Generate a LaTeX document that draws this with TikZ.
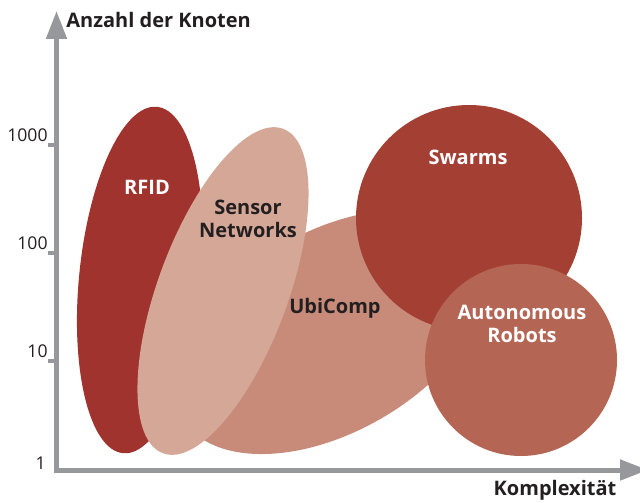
\documentclass[tikz,border=0pt]{standalone}
\usepackage{fontspec}
\setmainfont{Open Sans}
\usetikzlibrary{arrows.meta}
\definecolor{rfidred}{HTML}{A0332D}
\definecolor{sensorpink}{HTML}{D5A797}
\definecolor{ubirose}{HTML}{C88B7A}
\definecolor{swarmred}{HTML}{A34033}
\definecolor{robotrust}{HTML}{B46553}
\definecolor{axisgray}{HTML}{97989C}
\definecolor{textdark}{HTML}{231F20}

\begin{document}
\begin{tikzpicture}[x=0.5pt,y=0.5pt]
    \tikzstyle{every node}+=[inner sep=0pt]
    \tikzstyle{blobtext}=[font=\fontsize{10}{11.5}\selectfont\bfseries, align=center]
    \tikzstyle{ticktext}=[font=\fontsize{8.8}{10}\selectfont, text=textdark]
    \tikzstyle{axisline}=[axisgray, line width=2.5pt]
    \useasboundingbox (0,0) rectangle (640,-502);
    % blobs
    \fill [rfidred, rotate around={84.4:(140,-280)}] (140,-280) ellipse [x radius=174, y radius=61];
    \fill [ubirose, rotate around={30:(331,-332)}] (331,-332) ellipse [x radius=172, y radius=100];
    \fill [sensorpink, rotate around={69.7:(223,-291)}] (223,-291) ellipse [x radius=173, y radius=65];
    \fill [swarmred] (469,-218) circle (113);
    \fill [robotrust] (521,-360) circle (96);
    \draw (147,-187) node [blobtext, text=white] (rfid) {RFID};
    \draw (248,-219) node [blobtext, text=textdark] (sensor) {Sensor\\Networks};
    \draw (335,-308) node [blobtext, text=textdark] (ubicomp) {UbiComp};
    \draw (468,-157) node [blobtext, text=white] (swarms) {Swarms};
    \draw (522,-324) node [blobtext, text=white] (robots) {Autonomous\\Robots};
    % axes
    \coordinate (ytop) at (56.5,-11);
    \coordinate (origin) at (56.5,-470);
    \coordinate (xend) at (648,-470);
    \draw [axisline, {Triangle[length=14pt,width=10pt]}-{Triangle[length=14pt,width=10pt]}] (ytop) -- (origin) -- (xend);
    \foreach \y/\t in {-145/1000,-253/100,-361/10} {
        \coordinate (tick\t) at (56.5,\y);
        \draw [axisgray, line width=2pt] (tick\t) -- +(-8.5,0);
        \draw (48,\y+10) node [ticktext, left] (num\t) {\t};
    }
    \draw (46,-463) node [ticktext, left] (num1) {1};
    \draw (66,-20) node [blobtext, text=textdark, right] (ylabel) {Anzahl der Knoten};
    \draw (555,-490) node [blobtext, text=textdark] (xlabel) {Komplexität};
\end{tikzpicture}
\end{document}
